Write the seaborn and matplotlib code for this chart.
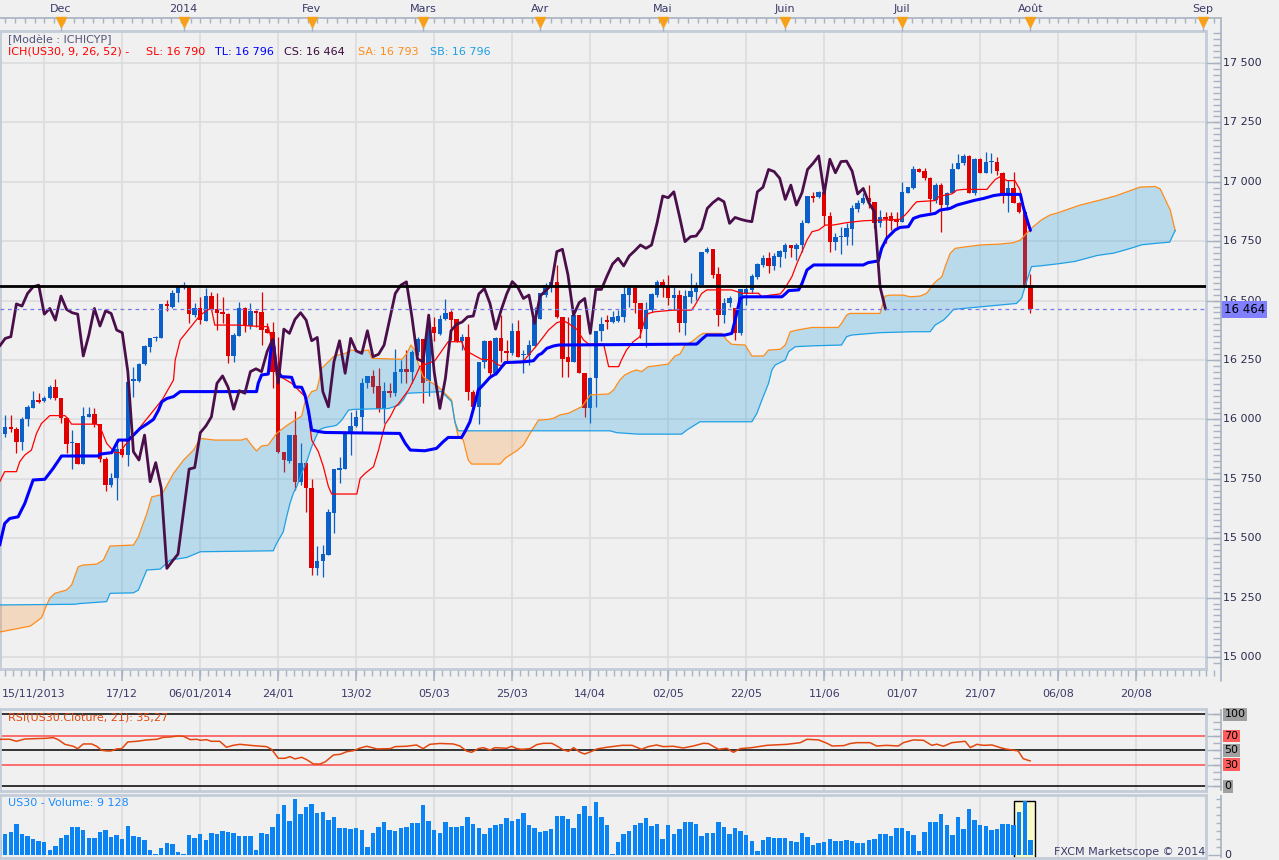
import numpy as np
import matplotlib
matplotlib.use("Agg")
import matplotlib.pyplot as plt
import seaborn as sns
from matplotlib.transforms import blended_transform_factory
from matplotlib.lines import Line2D
from matplotlib.collections import LineCollection
from matplotlib.patches import Rectangle

# ---------------------------------------------------------------- data
open_ = [15871, 15938, 15969, 15958, 15906, 16000, 16050, 16081, 16079, 16089,
         16135, 16091, 16004, 15899, 15899, 15811, 16011, 16023, 15980, 15832,
         15724, 15752, 15874, 15850, 16160, 16163, 16232, 16303, 16341, 16341,
         16486, 16475, 16530, 16558, 16558, 16439, 16467, 16415, 16519, 16463,
         16453, 16443, 16267, 16351, 16467, 16393, 16457, 16453, 16379, 16369,
         16201, 15864, 15826, 15934, 15738, 15818, 15710, 15373, 15404, 15429,
         15607, 15787, 15791, 15944, 15972, 16008, 16152, 16183, 16140, 16046,
         16121, 16110, 16201, 16213, 16201, 16285, 16337, 16160, 16387, 16359,
         16421, 16453, 16421, 16331, 16345, 16117, 16053, 16243, 16331, 16194,
         16341, 16288, 16278, 16373, 16271, 16271, 16309, 16421, 16523, 16560,
         16579, 16430, 16261, 16243, 16439, 16197, 16046, 16173, 16373, 16418,
         16410, 16415, 16432, 16524, 16551, 16491, 16380, 16460, 16524, 16580,
         16558, 16509, 16523, 16404, 16516, 16537, 16565, 16706, 16716, 16612,
         16439, 16488, 16467, 16362, 16527, 16544, 16600, 16650, 16678, 16646,
         16685, 16706, 16734, 16717, 16734, 16828, 16940, 16937, 16958, 16856,
         16748, 16766, 16769, 16801, 16885, 16912, 16930, 16916, 16825, 16850,
         16856, 16842, 16832, 16954, 16972, 17052, 17047, 17015, 16923, 16986,
         16902, 16951, 17052, 17078, 17109, 16951, 17095, 17038, 17083, 17085,
         17038, 16949, 16972, 16912, 16874, 16566]
high = [15960, 16018, 16018, 15969, 16011, 16060, 16121, 16112, 16098, 16145,
        16170, 16091, 16011, 15955, 15899, 16053, 16053, 16046, 15980, 15843,
        15773, 15899, 15913, 16159, 16222, 16236, 16313, 16341, 16352, 16486,
        16502, 16544, 16562, 16580, 16562, 16488, 16516, 16551, 16537, 16530,
        16516, 16446, 16365, 16495, 16474, 16488, 16460, 16537, 16404, 16411,
        16348, 15864, 15934, 16037, 15899, 15822, 15748, 15467, 15471, 15625,
        15791, 15843, 15948, 16032, 16039, 16173, 16183, 16208, 16215, 16159,
        16152, 16295, 16250, 16292, 16292, 16345, 16340, 16432, 16432, 16439,
        16505, 16460, 16421, 16359, 16401, 16124, 16243, 16334, 16334, 16348,
        16439, 16334, 16404, 16418, 16292, 16334, 16474, 16530, 16575, 16590,
        16649, 16432, 16432, 16439, 16439, 16197, 16180, 16373, 16430, 16440,
        16457, 16460, 16566, 16566, 16566, 16491, 16495, 16531, 16587, 16590,
        16608, 16559, 16544, 16544, 16615, 16579, 16706, 16724, 16716, 16643,
        16509, 16519, 16467, 16547, 16560, 16610, 16660, 16690, 16706, 16702,
        16713, 16744, 16734, 16741, 16839, 16940, 16958, 16960, 16958, 16874,
        16783, 16811, 16825, 16902, 16923, 16951, 16986, 16916, 16881, 16874,
        16874, 16874, 17000, 16979, 17066, 17057, 17057, 17021, 16993, 16996,
        16958, 17080, 17117, 17117, 17113, 17099, 17099, 17127, 17123, 17106,
        17043, 17008, 17043, 16916, 16874, 16612]
low = [15850, 15927, 15945, 15860, 15871, 15973, 16050, 16070, 16075, 16085,
       16081, 15986, 15857, 15790, 15811, 15811, 16011, 15969, 15822, 15700,
       15717, 15661, 15843, 15804, 16096, 16159, 16229, 16285, 16330, 16341,
       16457, 16467, 16495, 16550, 16404, 16432, 16401, 16415, 16460, 16376,
       16404, 16239, 16243, 16351, 16369, 16379, 16387, 16313, 16362, 16131,
       15860, 15780, 15818, 15703, 15724, 15611, 15345, 15345, 15338, 15429,
       15523, 15731, 15791, 15850, 15969, 15941, 16131, 16110, 16033, 15983,
       16096, 16098, 16152, 16152, 16152, 16270, 16068, 16100, 16330, 16355,
       16418, 16334, 16327, 16292, 16082, 16046, 15981, 16215, 16173, 16187,
       16243, 16243, 16271, 16261, 16194, 16229, 16306, 16421, 16515, 16537,
       16425, 16180, 16180, 16243, 16194, 16011, 15983, 16053, 16330, 16380,
       16405, 16411, 16411, 16474, 16446, 16341, 16306, 16453, 16517, 16517,
       16481, 16460, 16369, 16355, 16488, 16502, 16565, 16699, 16594, 16393,
       16404, 16474, 16334, 16355, 16480, 16530, 16590, 16640, 16617, 16629,
       16643, 16678, 16685, 16671, 16706, 16828, 16916, 16930, 16818, 16706,
       16713, 16696, 16734, 16734, 16874, 16907, 16888, 16804, 16811, 16741,
       16797, 16811, 16832, 16951, 16968, 17040, 17008, 16874, 16909, 16790,
       16881, 16951, 17052, 17071, 16951, 16945, 17036, 17036, 17038, 17029,
       16909, 16874, 16909, 16867, 16559, 16446]
close = [15941, 15969, 15958, 15906, 16000, 16053, 16081, 16074, 16091, 16135,
         16089, 16004, 15895, 15904, 15811, 16014, 16023, 15980, 15832, 15724,
         15752, 15874, 15850, 16159, 16168, 16232, 16309, 16341, 16348, 16486,
         16477, 16530, 16558, 16565, 16443, 16467, 16418, 16519, 16463, 16449,
         16443, 16267, 16355, 16467, 16393, 16457, 16446, 16376, 16365, 16201,
         15864, 15829, 15934, 15738, 15818, 15710, 15373, 15404, 15433, 15611,
         15791, 15797, 15944, 15972, 16011, 16152, 16183, 16135, 16043, 16121,
         16110, 16201, 16213, 16201, 16285, 16337, 16152, 16380, 16362, 16421,
         16449, 16418, 16331, 16345, 16117, 16053, 16243, 16331, 16194, 16341,
         16288, 16278, 16373, 16264, 16274, 16313, 16421, 16530, 16565, 16579,
         16430, 16254, 16243, 16439, 16197, 16046, 16173, 16373, 16400, 16410,
         16432, 16435, 16528, 16551, 16488, 16380, 16460, 16528, 16580, 16556,
         16509, 16523, 16404, 16519, 16542, 16565, 16706, 16716, 16608, 16439,
         16491, 16509, 16362, 16547, 16547, 16603, 16654, 16678, 16646, 16688,
         16710, 16734, 16720, 16734, 16828, 16940, 16933, 16958, 16856, 16748,
         16769, 16772, 16804, 16888, 16912, 16930, 16916, 16825, 16850, 16842,
         16836, 16832, 16958, 16977, 17052, 17043, 17015, 16926, 16986, 16902,
         16954, 17052, 17078, 17109, 16951, 17095, 17038, 17085, 17087, 17045,
         16949, 16972, 16912, 16874, 16559, 16464]
volume = [45, 62, 68, 93, 63, 57, 48, 41, 39, 15,
          27, 50, 60, 84, 84, 75, 51, 51, 69, 75,
          54, 60, 48, 87, 56, 54, 45, 15, 3, 21,
          36, 33, 9, 2, 60, 51, 63, 45, 66, 63,
          72, 69, 67, 57, 57, 57, 15, 65, 63, 84,
          122, 150, 102, 168, 123, 144, 153, 126, 129, 105,
          114, 81, 80, 78, 80, 75, 24, 66, 84, 99,
          75, 72, 81, 84, 96, 95, 150, 102, 75, 66,
          99, 84, 84, 87, 114, 93, 81, 63, 81, 90,
          93, 111, 102, 108, 126, 90, 81, 69, 72, 78,
          117, 117, 108, 81, 123, 147, 117, 159, 114, 90,
          3, 39, 63, 72, 90, 96, 111, 87, 93, 48,
          90, 63, 78, 99, 99, 93, 57, 66, 66, 99,
          84, 63, 81, 72, 60, 42, 12, 45, 54, 51,
          51, 51, 42, 39, 66, 54, 30, 36, 39, 48,
          42, 42, 45, 42, 36, 36, 45, 48, 63, 63,
          57, 81, 81, 72, 60, 13, 69, 99, 99, 123,
          90, 60, 114, 78, 138, 105, 90, 87, 75, 78,
          93, 93, 90, 129, 162, 45]

# Tenkan-sen (SL), read as breakpoints (bar index, price)
tenkan_x = [0, 0.9, 3.0, 3.6, 4.5, 5.7, 6.6, 7.5, 9.0, 11.7,
            12.3, 12.9, 17.4, 18.0, 19.2, 20.7, 21.6, 22.5, 23.1, 29.2,
            31.2, 31.5, 32.4, 33.6, 36.0, 37.5, 38.0, 38.6, 42.8, 45.2,
            48.2, 48.8, 49.4, 49.7, 50.6, 52.4, 53.3, 54.8, 55.4, 56.0,
            57.2, 58.1, 59.0, 59.6, 64.1, 64.7, 65.6, 67.1, 68.0, 68.6,
            69.2, 70.1, 71.0, 71.6, 72.5, 73.4, 74.6, 75.4, 78.1, 80.5,
            82.9, 83.5, 85.6, 86.5, 88.3, 89.5, 90.4, 91.0, 93.7, 94.3,
            95.2, 96.1, 97.6, 98.5, 100.0, 101.2, 102.1, 103.6, 104.8, 105.7,
            108.4, 109.3, 111.1, 111.6, 112.5, 113.7, 114.9, 115.8, 116.4, 117.6,
            120.9, 124.2, 124.8, 126.0, 126.9, 131.4, 133.2, 136.2, 136.8, 138.3,
            140.1, 140.7, 141.3, 142.2, 143.1, 144.0, 144.9, 145.8, 147.0, 148.2,
            149.6, 152.0, 155.0, 161.6, 162.5, 163.4, 164.0, 164.6, 167.9, 168.5,
            169.7, 170.9, 171.8, 173.0, 177.2, 177.8, 178.7, 179.6, 180.8, 182.2,
            183.1, 183.9, 185.0]
tenkan_y = [15738, 15780, 15780, 15822, 15850, 15871, 15941, 15983, 16016, 16016,
            16001, 15980, 15980, 15969, 15899, 15860, 15860, 15892, 15906, 16084,
            16166, 16250, 16334, 16369, 16439, 16463, 16467, 16397, 16397, 16393,
            16390, 16334, 16306, 16180, 16177, 16152, 16131, 16096, 16025, 15913,
            15864, 15801, 15717, 15686, 15686, 15752, 15773, 15801, 15871, 15927,
            15980, 16011, 16053, 16067, 16096, 16124, 16180, 16222, 16247, 16327,
            16327, 16292, 16264, 16253, 16250, 16229, 16225, 16239, 16239, 16253,
            16278, 16303, 16348, 16376, 16407, 16415, 16404, 16379, 16334, 16317,
            16317, 16222, 16222, 16250, 16292, 16327, 16348, 16421, 16446, 16453,
            16460, 16460, 16481, 16530, 16545, 16545, 16531, 16531, 16516, 16523,
            16528, 16545, 16566, 16601, 16657, 16706, 16755, 16790, 16797, 16818,
            16818, 16828, 16836, 16842, 16860, 16884, 16902, 16916, 16921, 16937,
            16944, 16949, 16965, 16968, 16968, 16986, 17010, 17022, 17005, 17005,
            16968, 16880, 16790]

# Kijun-sen (TL)
kijun_x = [0, 0.9, 1.8, 3.3, 4.5, 6.0, 8.1, 9.6, 11.1, 17.7,
           18.0, 20.1, 21.3, 23.1, 24.0, 25.2, 26.4, 27.6, 28.5, 29.1,
           30.0, 31.2, 32.4, 46.1, 46.4, 47.0, 48.2, 48.8, 49.1, 49.7,
           50.6, 52.4, 53.0, 54.2, 54.8, 55.4, 56.0, 57.5, 58.4, 71.8,
           72.8, 73.7, 76.3, 78.4, 79.6, 80.5, 82.9, 83.5, 84.4, 85.3,
           85.9, 86.5, 88.0, 89.2, 90.7, 94.3, 95.8, 96.7, 97.3, 98.2,
           99.4, 100.3, 125.1, 126.0, 126.9, 130.2, 131.4, 132.0, 132.9, 133.5,
           140.4, 141.0, 141.6, 143.4, 144.0, 144.9, 146.1, 155.0, 155.9, 157.7,
           158.3, 159.2, 160.7, 161.6, 163.1, 164.0, 165.2, 167.9, 168.8, 170.6,
           171.8, 174.8, 176.6, 178.4, 179.9, 183.2, 183.7, 184.6, 185.0]
kijun_y = [15471, 15562, 15583, 15590, 15646, 15745, 15748, 15794, 15846, 15846,
           15854, 15860, 15913, 15913, 15934, 15962, 15980, 16000, 16039, 16074,
           16088, 16096, 16117, 16117, 16152, 16187, 16191, 16320, 16330, 16208,
           16180, 16177, 16137, 16135, 16102, 16039, 15955, 15948, 15945, 15941,
           15899, 15871, 15868, 15878, 15906, 15924, 15924, 15948, 15990, 16068,
           16124, 16138, 16177, 16194, 16239, 16243, 16247, 16271, 16278, 16299,
           16309, 16313, 16317, 16337, 16355, 16355, 16362, 16418, 16509, 16516,
           16516, 16528, 16542, 16545, 16572, 16629, 16650, 16650, 16660, 16667,
           16720, 16762, 16797, 16808, 16811, 16846, 16856, 16867, 16881, 16888,
           16902, 16921, 16930, 16942, 16947, 16947, 16895, 16825, 16796]

# Senkou span A (SA), already displaced 26 bars forward
senkou_a_x = [0, 5.5, 7.5, 8.4, 9.0, 9.9, 12.0, 12.9, 14.1, 15.0,
              17.4, 18.6, 19.8, 24.0, 24.9, 26.4, 27.3, 28.8, 29.4, 31.2,
              33.0, 34.8, 36.0, 38.6, 43.4, 44.3, 45.2, 46.1, 47.0, 48.2,
              49.7, 51.2, 53.0, 54.2, 54.8, 56.0, 56.9, 57.2, 57.8, 58.4,
              59.9, 60.8, 62.0, 63.2, 64.4, 66.2, 66.8, 72.2, 73.1, 73.8,
              74.5, 75.1, 76.0, 77.2, 78.7, 79.6, 80.5, 81.1, 81.7, 82.3,
              83.2, 84.1, 84.7, 89.8, 90.7, 91.6, 92.8, 94.0, 95.2, 96.7,
              98.5, 99.4, 100.6, 102.1, 103.3, 104.5, 106.0, 109.3, 110.2, 111.3,
              112.2, 113.4, 114.3, 115.2, 116.4, 117.6, 120.0, 121.2, 122.1, 123.0,
              124.2, 125.7, 126.3, 129.6, 130.5, 131.4, 133.8, 135.0, 137.1, 138.0,
              140.1, 141.0, 141.9, 143.1, 145.8, 150.5, 151.1, 152.0, 152.6, 158.0,
              158.9, 159.8, 162.2, 163.4, 165.2, 166.4, 167.6, 168.2, 169.1, 169.7,
              170.6, 171.5, 173.6, 176.0, 179.6, 182.0, 183.2, 184.3, 185.5, 187.0,
              188.5, 190.0, 191.2, 193.9, 197.5, 200.2, 202.0, 204.7, 207.4, 208.3,
              210.1, 211.0]
senkou_a_y = [15105, 15130, 15165, 15218, 15248, 15268, 15282, 15303, 15380, 15387,
              15391, 15408, 15467, 15471, 15506, 15604, 15674, 15682, 15696, 15773,
              15829, 15871, 15920, 15913, 15913, 15920, 15892, 15867, 15888, 15892,
              15941, 15969, 15997, 16014, 16075, 16117, 16124, 16152, 16215, 16229,
              16264, 16271, 16278, 16292, 16285, 16292, 16257, 16253, 16278, 16313,
              16292, 16236, 16180, 16159, 16138, 16117, 16096, 16082, 15990, 15927,
              15913, 15829, 15812, 15812, 15836, 15850, 15868, 15892, 15941, 15997,
              16000, 16005, 16019, 16026, 16040, 16054, 16103, 16107, 16124, 16166,
              16187, 16201, 16208, 16201, 16222, 16225, 16233, 16267, 16275, 16313,
              16327, 16355, 16362, 16362, 16334, 16316, 16313, 16267, 16267, 16292,
              16295, 16313, 16369, 16376, 16387, 16387, 16404, 16439, 16446, 16446,
              16519, 16523, 16523, 16516, 16519, 16531, 16570, 16584, 16600, 16643,
              16699, 16720, 16727, 16734, 16738, 16744, 16755, 16783, 16811, 16840,
              16860, 16870, 16880, 16902, 16923, 16940, 16955, 16978, 16980, 16970,
              16881, 16793]

# Senkou span B (SB), already displaced 26 bars forward
senkou_b_x = [0, 13.5, 14.4, 19.2, 19.8, 24.0, 24.9, 26.4, 28.8, 30.6,
              33.6, 36.0, 49.1, 49.7, 50.9, 51.5, 52.1, 52.7, 53.3, 54.2,
              55.1, 56.0, 56.9, 57.5, 58.4, 59.9, 60.5, 61.4, 62.6, 63.5,
              69.8, 71.6, 72.5, 73.1, 79.3, 80.2, 81.1, 81.7, 82.3, 109.5,
              110.8, 114.6, 122.4, 123.3, 125.7, 135.0, 135.9, 136.8, 138.0, 138.6,
              139.2, 141.0, 141.6, 142.8, 146.4, 151.1, 152.0, 152.9, 158.0, 164.0,
              167.0, 167.9, 169.4, 170.3, 171.2, 182.5, 183.4, 184.6, 185.2, 186.7,
              190.0, 193.0, 197.0, 200.0, 203.0, 205.0, 208.0, 210.0, 211.0]
senkou_b_y = [15219, 15222, 15225, 15233, 15268, 15270, 15282, 15366, 15370, 15408,
              15419, 15443, 15447, 15478, 15527, 15590, 15646, 15689, 15717, 15773,
              15822, 15885, 15934, 15958, 15966, 15972, 15976, 15997, 16039, 16042,
              16046, 16060, 16084, 16110, 16117, 16096, 16075, 15990, 15952, 15952,
              15944, 15938, 15938, 15955, 15990, 15990, 16025, 16081, 16152, 16208,
              16229, 16250, 16285, 16306, 16310, 16313, 16348, 16355, 16365, 16369,
              16369, 16397, 16418, 16439, 16463, 16488, 16509, 16601, 16643, 16646,
              16655, 16665, 16690, 16700, 16720, 16735, 16742, 16746, 16796]

# RSI(21)
rsi_x = [0, 1.8, 3.0, 4.5, 8.4, 9.6, 10.5, 11.7, 13.2, 14.0,
         15.0, 16.5, 17.4, 18.3, 19.2, 20.0, 21.0, 21.9, 23.0, 24.6,
         26.4, 28.2, 29.4, 30.6, 32.0, 33.0, 34.2, 35.4, 36.0, 37.1,
         38.0, 39.5, 40.7, 41.9, 43.1, 45.5, 47.9, 48.8, 50.0, 51.2,
         52.1, 53.0, 54.2, 55.1, 56.3, 57.5, 58.4, 59.9, 61.1, 62.3,
         63.5, 64.7, 65.9, 67.7, 70.1, 71.0, 73.0, 74.8, 76.0, 77.2,
         79.0, 81.4, 82.6, 83.8, 84.7, 85.9, 86.8, 88.0, 88.9, 91.0,
         91.9, 92.8, 93.7, 95.2, 96.4, 97.6, 99.1, 100.0, 101.2, 102.1,
         103.0, 104.2, 105.0, 106.0, 107.2, 109.0, 111.7, 113.5, 115.2, 116.4,
         117.9, 119.1, 120.9, 122.7, 124.5, 126.3, 127.2, 129.0, 130.5, 131.7,
         132.9, 135.0, 137.7, 141.3, 143.7, 144.9, 147.0, 148.5, 149.4, 151.5,
         152.6, 153.8, 156.2, 157.4, 159.2, 161.3, 162.2, 164.0, 165.8, 167.3,
         168.2, 169.4, 170.9, 173.3, 174.2, 175.4, 176.6, 178.1, 179.6, 180.5,
         182.0, 182.8, 183.7, 184.6, 185.0]
rsi_y = [65.3, 65.3, 62.5, 65.7, 66.7, 67.6, 64.8, 58.3, 55.6, 52.3,
         58.8, 58.8, 55.6, 50.0, 49.1, 49.1, 51.9, 52.3, 61.6, 62.5,
         64.4, 65.3, 68.1, 68.5, 69.9, 69.4, 64.8, 65.3, 63.9, 64.8,
         62.5, 62.5, 54.2, 56.9, 58.3, 56.5, 55.1, 51.4, 38.9, 38.9,
         41.2, 38.0, 40.3, 37.0, 31.0, 31.0, 33.8, 43.5, 44.4, 48.1,
         49.5, 53.2, 55.6, 51.9, 52.3, 55.1, 55.6, 57.4, 52.3, 58.3,
         59.5, 58.8, 56.0, 49.0, 47.2, 52.3, 53.7, 50.5, 53.7, 52.8,
         55.6, 52.3, 51.4, 52.3, 57.9, 59.7, 59.7, 56.0, 50.5, 48.6,
         53.7, 47.2, 44.9, 47.7, 51.9, 54.2, 56.9, 56.9, 51.4, 55.1,
         57.4, 55.1, 55.6, 53.2, 56.0, 59.7, 59.3, 51.4, 52.8, 47.2,
         52.3, 53.7, 56.9, 58.3, 60.6, 65.3, 64.4, 59.7, 56.0, 56.5,
         59.3, 60.6, 60.6, 56.0, 56.9, 56.0, 60.6, 64.4, 63.9, 56.9,
         58.5, 55.6, 60.6, 62.5, 53.7, 58.3, 56.9, 57.4, 53.7, 51.9,
         50.0, 49.1, 38.4, 36.1, 35.3]

chikou_shift = 26
resistance_level = 16560
last_price = 16464
price_ticks = [15000, 15250, 15500, 15750, 16000, 16250, 16500, 16750, 17000, 17250, 17500]
month_labels = ["Dec", "2014", "Fev", "Mars", "Avr", "Mai", "Juin", "Juil", "Août", "Sep"]
month_pos = [11, 33, 56, 76, 97, 119, 141, 162, 185, 216]
date_labels = ["15/11/2013", "17/12", "06/01/2014", "24/01", "13/02", "05/03", "25/03",
               "14/04", "02/05", "22/05", "11/06", "01/07", "21/07", "06/08", "20/08"]
date_pos = [8, 22, 36, 50, 64, 78, 92, 106, 120, 134, 148, 162, 176, 190, 204]
rsi_levels = [100, 70, 50, 30, 0]
legend_model = "[Modèle : ICHICYP]"
legend_parts = [("ICH(US30, 9, 26, 52) -", "#ff0000"), ("SL: 16 790", "#ff0000"),
                ("TL: 16 796", "#0000ff"), ("CS: 16 464", "#3a0a3a"),
                ("SA: 16 793", "#ff8c1a"), ("SB: 16 796", "#1ea0e6")]
rsi_title = "RSI(US30.Cloture, 21): 35,27"
vol_title = "US30 - Volume: 9 128"
credit = "FXCM Marketscope © 2014"

# ---------------------------------------------------------------- style
sns.set_theme(style="white")
plt.rcParams["font.family"] = ["DejaVu Sans"]

W, H = 1279, 860
BG = "#f0f0f0"
FRAME = "#c3ccd8"
RULER = "#a7b2c2"
GRID = "#dcdcdf"
TXT = "#3a3a6a"
UP, DOWN = "#0a60c8", "#e00000"

fig = plt.figure(figsize=(W / 100, H / 100), dpi=100, facecolor=BG)


def fx(px):
    return px / W


def fy(py):
    return 1 - py / H


def axes_px(x0, y0, x1, y1):
    a = fig.add_axes([fx(x0), fy(y1), (x1 - x0) / W, (y1 - y0) / H])
    a.set_facecolor(BG)
    return a


def frame(a):
    a.set_xticks([])
    a.set_yticks([])
    a.set_xlabel("")
    a.set_ylabel("")
    for s in a.spines.values():
        s.set_visible(True)
        s.set_color(FRAME)
        s.set_linewidth(2.0)


def price_at(py):  # main panel calibration: 17 500 at y=63 px, 15 000 at y=657 px
    return 17500 - (py - 63) * 2500 / 594.0


PPB = 5.5714
XMIN = 0.054
XMAX = XMIN + 1206 / PPB
XRULE = XMIN + 1221 / PPB
MAIN_TOP, MAIN_BOT = 31, 668.5

idx = np.arange(len(close))
o = np.array(open_, float)
h = np.array(high, float)
l = np.array(low, float)
c = np.array(close, float)

# ---------------------------------------------------------------- main panel
ax = axes_px(0, MAIN_TOP, 1206, MAIN_BOT)
for p in date_pos:
    ax.axvline(p, color=GRID, lw=1.2, zorder=0.3)
for v in price_ticks:
    ax.axhline(v, color=GRID, lw=1.2, zorder=0.3)

cols = [UP if cc >= oo else DOWN for oo, cc in zip(o, c)]
ax.vlines(idx, l, h, colors=cols, lw=0.9, zorder=2)
ax.bar(idx, np.maximum(np.abs(c - o), 3.5), bottom=np.minimum(o, c), width=0.8,
       color=cols, linewidth=0, zorder=2.1)

xx = np.linspace(0, max(senkou_a_x), 4221)
sa_i = np.interp(xx, senkou_a_x, senkou_a_y)
sb_i = np.interp(xx, senkou_b_x, senkou_b_y)
ax.fill_between(xx, sa_i, sb_i, where=sa_i >= sb_i, interpolate=True,
                color="#0d98de", alpha=0.24, linewidth=0, zorder=3)
ax.fill_between(xx, sa_i, sb_i, where=sa_i < sb_i, interpolate=True,
                color="#ff8c28", alpha=0.24, linewidth=0, zorder=3)

sns.lineplot(x=senkou_a_x, y=senkou_a_y, ax=ax, color="#ff8c1a", linewidth=0.9,
             estimator=None, sort=False, zorder=4)
sns.lineplot(x=senkou_b_x, y=senkou_b_y, ax=ax, color="#1ea0e6", linewidth=0.9,
             estimator=None, sort=False, zorder=4)
sns.lineplot(x=tenkan_x, y=tenkan_y, ax=ax, color="#ff0000", linewidth=0.9,
             estimator=None, sort=False, zorder=5)
sns.lineplot(x=kijun_x, y=kijun_y, ax=ax, color="#0000ff", linewidth=2.2,
             estimator=None, sort=False, zorder=5)
sns.lineplot(x=idx[chikou_shift:] - chikou_shift, y=c[chikou_shift:], ax=ax,
             color="#4a0f4a", linewidth=2.0, estimator=None, sort=False, zorder=5.5)

ax.axhline(resistance_level, color="black", lw=2.0, zorder=6)
ax.axhline(last_price, color="#7878ee", lw=0.9, ls=(0, (3, 3)), zorder=6)

ax.set_xlim(XMIN, XMAX)
ax.set_ylim(price_at(MAIN_BOT), price_at(MAIN_TOP))
frame(ax)

fig.text(fx(8), fy(40), legend_model, fontsize=8, color="#55557a", va="center", ha="left")
leg_x = [8, 146, 215, 284, 358, 430]
for (s, col), px in zip(legend_parts, leg_x):
    fig.text(fx(px), fy(52), s, fontsize=8, color=col, va="center", ha="left")

# right price scale strip
rax = axes_px(1206, MAIN_TOP, 1279, MAIN_BOT)
rax.set_xlim(1206, 1279)
rax.set_ylim(price_at(MAIN_BOT), price_at(MAIN_TOP))
rax.axis("off")
minor = np.arange(14975, 17650, 25)
rax.hlines(minor, 1213, 1221, colors=RULER, lw=1)
rax.hlines(price_ticks, 1206, 1221, colors=RULER, lw=1)
for v in price_ticks:
    rax.text(1223, v, f"{v:,}".replace(",", " "), fontsize=8, color="#2c2c50",
             va="center", ha="left")
rax.text(1223.5, last_price, f"{last_price:,}".replace(",", " "), fontsize=8.5,
         color="black", va="center", ha="left", zorder=5,
         bbox=dict(boxstyle="square,pad=0.18", fc="#8080ff", ec="none"))

trans = blended_transform_factory(ax.transData, fig.transFigure)
fig.add_artist(Line2D([0, fx(1221)], [fy(18), fy(18)], color=RULER, lw=1.2))
fig.add_artist(Line2D([fx(1221), fx(1221)], [fy(18), fy(681)], color=RULER, lw=1.2))

# top month ruler
tt = [t for t in np.arange(8 - 1.75 * 4, XRULE, 1.75) if t >= XMIN]
fig.add_artist(LineCollection([[(t, fy(18)), (t, fy(22.5))] for t in tt],
                              colors=RULER, linewidths=1, transform=trans))
fig.add_artist(LineCollection([[(m, fy(18)), (m, fy(31))] for m in month_pos],
                              colors=RULER, linewidths=1, transform=trans))
fig.add_artist(Line2D(month_pos, [fy(21.8)] * len(month_pos), ls="none", marker="v",
                      ms=7.5, mfc="#f7a11a", mec="#f7a11a", transform=trans))
for m, lab in zip(month_pos, month_labels):
    fig.text(m, fy(9), lab, transform=trans, fontsize=8, color=TXT, ha="center", va="center")

# bottom date ruler
bt = [t for t in np.arange(8 - 1.4 * 5, XRULE, 1.4) if t >= XMIN]
fig.add_artist(LineCollection([[(t, fy(669.5)), (t, fy(676))] for t in bt],
                              colors=RULER, linewidths=1, transform=trans))
fig.add_artist(LineCollection([[(d, fy(669.5)), (d, fy(681))] for d in date_pos],
                              colors=RULER, linewidths=1.2, transform=trans))
for k, (d, lab) in enumerate(zip(date_pos, date_labels)):
    if k == 0:
        fig.text(XMIN + 0.3, fy(693.5), lab, transform=trans, fontsize=8, color=TXT,
                 ha="left", va="center")
    else:
        fig.text(d, fy(693.5), lab, transform=trans, fontsize=8, color=TXT,
                 ha="center", va="center")

# ---------------------------------------------------------------- RSI panel
RSI_TOP, RSI_BOT = 709, 791
rsi_lim = (-(RSI_BOT - 786.3) / 0.72, 100 + (714.3 - RSI_TOP) / 0.72)
rax2 = axes_px(0, RSI_TOP, 1206, RSI_BOT)
for p in date_pos:
    rax2.axvline(p, color=GRID, lw=1.2, zorder=0.3)
for lv in rsi_levels:
    rax2.axhline(lv, color="black" if lv in (0, 50, 100) else "#ff4a4a", lw=1.1, zorder=1)
sns.lineplot(x=rsi_x, y=rsi_y, ax=rax2, color="#e2480e", linewidth=1.1,
             estimator=None, sort=False, zorder=3)
rax2.set_xlim(XMIN, XMAX)
rax2.set_ylim(*rsi_lim)
frame(rax2)
fig.text(fx(8), fy(717), rsi_title, fontsize=8, color="#e2480e", va="center", ha="left")

rs = axes_px(1206, RSI_TOP, 1279, RSI_BOT)
rs.set_xlim(1206, 1279)
rs.set_ylim(*rsi_lim)
rs.axis("off")
rs.axvline(1221, color=RULER, lw=1.2)
rs.hlines(np.arange(0, 101, 10), 1213, 1221, colors=RULER, lw=1)
rs.hlines(rsi_levels, 1207, 1221, colors=RULER, lw=1)
for lv in rsi_levels:
    fc = "#ff5c5c" if lv in (70, 30) else "#a0a0a0"
    rs.text(1224.5, lv, str(lv), fontsize=8, color="black", va="center", ha="left",
            bbox=dict(boxstyle="square,pad=0.12", fc=fc, ec="none"))

# ---------------------------------------------------------------- volume panel
VOL_TOP, VOL_BOT = 795, 857.5
vol_lim = (-(VOL_BOT - 855) * 3, (855 - VOL_TOP) * 3)
vax = axes_px(0, VOL_TOP, 1206, VOL_BOT)
for p in date_pos:
    vax.axvline(p, color=GRID, lw=1.2, zorder=0.3)
hl_top = max(volume[-3:])
vax.add_patch(Rectangle((idx[-3] - 0.9, vol_lim[0] - 1), 3.8, hl_top - vol_lim[0] + 1,
                        fc="#fafac8", ec="black", lw=1, zorder=1))
vax.bar(idx, volume, width=0.8, color="#0a84f5", linewidth=0, zorder=2)
vax.set_xlim(XMIN, XMAX)
vax.set_ylim(*vol_lim)
frame(vax)
fig.text(fx(8), fy(803.5), vol_title, fontsize=8, color="#1e8cff", va="center", ha="left")
fig.text(fx(1205), fy(852), credit, fontsize=8, color=TXT, va="center", ha="right")

vs = axes_px(1206, VOL_TOP, 1279, VOL_BOT)
vs.set_xlim(1206, 1279)
vs.set_ylim(*vol_lim)
vs.axis("off")
vs.axvline(1221, color=RULER, lw=1.2)
vs.hlines(np.arange(24, 180, 24), 1216, 1221, colors=RULER, lw=1)
vs.hlines([0], 1208, 1221, colors=RULER, lw=1)
vs.text(1224, 0, "0", fontsize=8, color="#2c2c50", va="center", ha="left")

fig.savefig("out.png", dpi=100, facecolor=BG)
